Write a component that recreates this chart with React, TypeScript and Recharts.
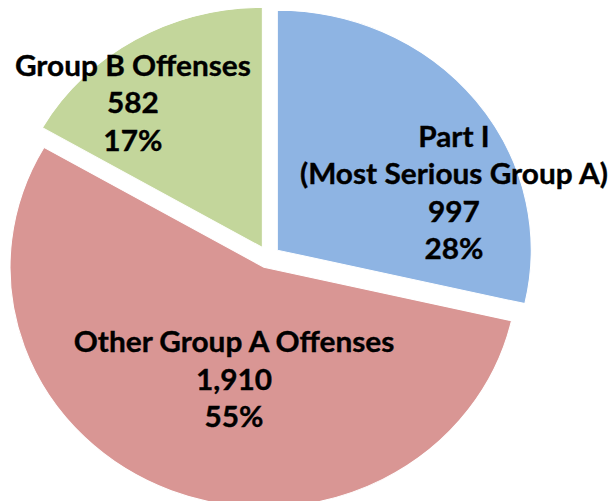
import React from "react";
import { PieChart, Pie, Cell } from "recharts";

// ---- data ----
const CATEGORY_LINES: string[][] = [
  ["Part I", "(Most Serious Group A)"],
  ["Other Group A Offenses"],
  ["Group B Offenses"],
];
const VALUES: number[] = [997, 1910, 582];
const PERCENT_LABELS: string[] = ["28%", "55%", "17%"];

// ---- styling ----
const COLORS = ["#8EB4E3", "#D99694", "#C3D69B"];
const LABEL_RADIUS = [0.735, 0.483, 0.788];
const LABEL_ANGLE_SHIFT = [-19.7, 7.3, 10.3];
const EXPLODE = 11;
const OUTER_R = 240;
const CX = 253.5;
const CY = 257;
const LINE_H = 37.5;
const CAP_HALF = 10;
const STRETCH = 1.058;
const RAD = Math.PI / 180;

const data = VALUES.map((v, i) => ({ name: CATEGORY_LINES[i].join(" "), value: v }));

const total = VALUES.reduce((a, b) => a + b, 0);
let acc = 0;
const MID_ANGLES = VALUES.map((v) => {
  const start = 90 - (acc / total) * 360;
  acc += v;
  const end = 90 - (acc / total) * 360;
  return (start + end) / 2;
});

const makeLabel = (i: number) => (props: any) => {
  if (props.index !== i) return null;
  const { cx, cy, outerRadius, midAngle } = props;
  const a = (midAngle + LABEL_ANGLE_SHIFT[i]) * RAD;
  const r = outerRadius * LABEL_RADIUS[i];
  const x = cx + r * Math.cos(a);
  const y = cy - r * Math.sin(a);
  const lines = [...CATEGORY_LINES[i], VALUES[i].toLocaleString("en-US"), PERCENT_LABELS[i]];
  const n = lines.length;
  return (
    <text
      key={`lbl-${i}`}
      x={x}
      y={y}
      textAnchor="middle"
      fill="#000"
      stroke="#000"
      strokeWidth={0.35}
      fontFamily="Lato, 'Noto Sans', sans-serif"
      fontWeight={700}
      fontSize={28.2}
    >
      {lines.map((l, k) => (
        <tspan key={k} x={x} y={y + (k - (n - 1) / 2) * LINE_H + CAP_HALF}>
          {l}
        </tspan>
      ))}
    </text>
  );
};

export default function App() {
  return (
    <div
      style={{
        position: "absolute",
        left: 0,
        top: 0,
        width: 613,
        height: 501,
        overflow: "hidden",
        background: "#fff",
      }}
    >
      <div style={{ transform: `scaleX(${STRETCH})`, transformOrigin: "0 0", width: 580, height: 501 }}>
        <PieChart width={580} height={501} margin={{ top: 0, right: 0, bottom: 0, left: 0 }}>
          {VALUES.map((_, i) => (
            <Pie
              key={i}
              data={data}
              dataKey="value"
              nameKey="name"
              cx={CX + EXPLODE * Math.cos(MID_ANGLES[i] * RAD)}
              cy={CY - EXPLODE * Math.sin(MID_ANGLES[i] * RAD)}
              outerRadius={OUTER_R}
              innerRadius={0}
              startAngle={90}
              endAngle={-270}
              isAnimationActive={false}
              labelLine={false}
              label={makeLabel(i)}
              stroke="none"
            >
              {data.map((_, j) => (
                <Cell
                  key={j}
                  fill={j === i ? COLORS[j] : "transparent"}
                  stroke={j === i ? "#fff" : "none"}
                  strokeWidth={1}
                />
              ))}
            </Pie>
          ))}
        </PieChart>
      </div>
    </div>
  );
}
